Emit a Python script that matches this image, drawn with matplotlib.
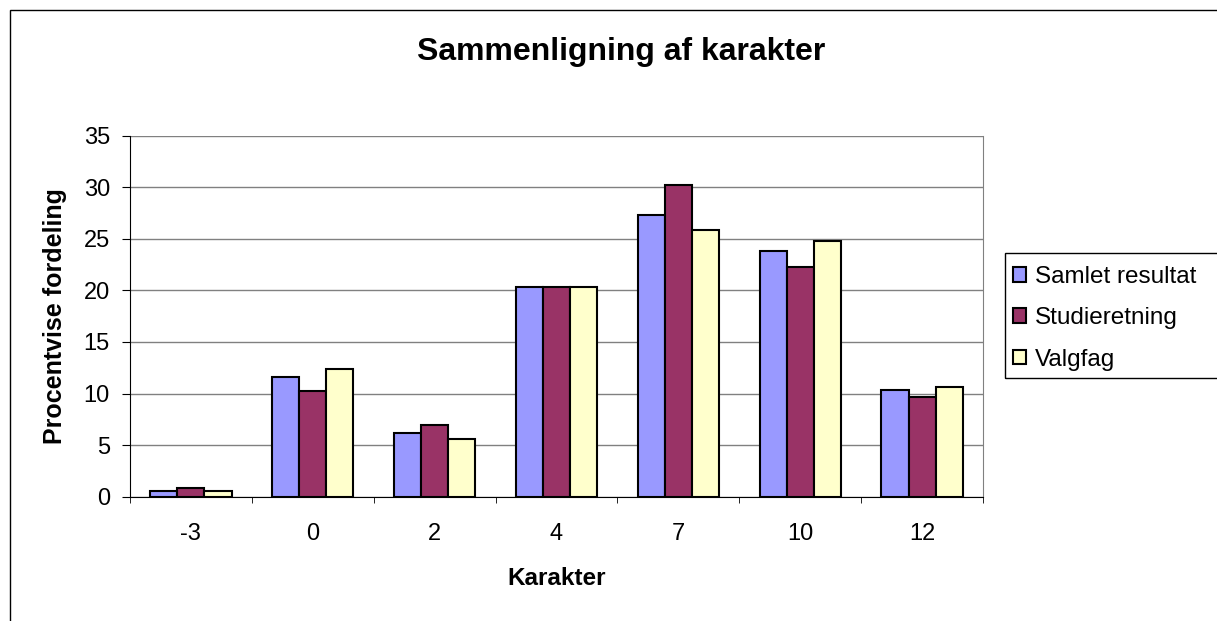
import numpy as np
import matplotlib
matplotlib.use('Agg')
import matplotlib.pyplot as plt
from matplotlib.patches import Rectangle

plt.rcParams['font.family'] = ['Liberation Sans', 'DejaVu Sans']

# ─── Data ─────────────────────────────────────────────────────────────────────
karakterer = ['-3', '0', '2', '4', '7', '10', '12']
samlet = [0.6, 11.6, 6.2, 20.3, 27.3, 23.8, 10.3]
studieretning = [0.8, 10.2, 6.9, 20.3, 30.2, 22.3, 9.7]
valgfag = [0.6, 12.4, 5.6, 20.3, 25.8, 24.8, 10.6]
serier = ['Samlet resultat', 'Studieretning', 'Valgfag']
farver = ['#9999FF', '#993366', '#FFFFCC']

# ─── Figure ───────────────────────────────────────────────────────────────────
W, H = 1217, 621
fig = plt.figure(figsize=(W / 100, H / 100), dpi=100)
# chart-area border (right and bottom edges lie outside the picture)
fig.patches.append(Rectangle((10 / W, -0.1), 1.2, 1 - 10 / H + 0.1,
                             transform=fig.transFigure, fill=False,
                             edgecolor='black', linewidth=1))

ax = fig.add_axes([130 / W, 1 - 496.7 / H, (983 - 130) / W, (496.7 - 135.5) / H])

x = np.arange(len(karakterer))
bw = 1 / 4.5
for i, (vals, navn, farve) in enumerate(zip([samlet, studieretning, valgfag], serier, farver)):
    ax.bar(x + (i - 1) * bw, vals, width=bw, color=farve, edgecolor='black',
           linewidth=1.5, label=navn, zorder=3)

ax.set_xlim(-0.5, len(karakterer) - 0.5)
ax.set_ylim(0, 35)
ax.set_yticks(range(0, 36, 5))
ax.yaxis.grid(True, color='#808080', linewidth=1, zorder=0)

ax.set_xticks(x)
ax.set_xticklabels(karakterer)
ax.set_xticks(np.arange(-0.5, len(karakterer), 1), minor=True)
ax.tick_params(axis='x', which='major', length=0, pad=19, labelsize=17)
ax.tick_params(axis='x', which='minor', length=4, color='black', direction='out')
ax.tick_params(axis='y', length=6, pad=8.5, labelsize=17, color='black')

ax.spines['left'].set_color('black')
ax.spines['bottom'].set_color('black')
ax.spines['top'].set_visible(False)
ax.spines['right'].set_color('#808080')

ax.set_xlabel('Karakter', fontsize=17.5, fontweight='bold', labelpad=16)
ax.set_ylabel('Procentvise fordeling', fontsize=18, fontweight='bold', labelpad=12)

fig.text(621 / W, 1 - 52 / H, 'Sammenligning af karakter', ha='center', va='center',
         fontsize=23, fontweight='bold')

# legend box (right edge lies outside the picture)
fig.patches.append(Rectangle((1005 / W, 1 - 378 / H), 0.5, 125 / H,
                             transform=fig.transFigure, fill=False,
                             edgecolor='black', linewidth=1))
leg = ax.legend(loc='upper left', bbox_to_anchor=(1008 / W, 1 - 261 / H),
                bbox_transform=fig.transFigure, fontsize=17.5, frameon=False,
                handlelength=0.55, handleheight=0.55, handletextpad=0.35,
                labelspacing=0.8, borderaxespad=0, borderpad=0.2)

fig.savefig('out.png', dpi=100)
